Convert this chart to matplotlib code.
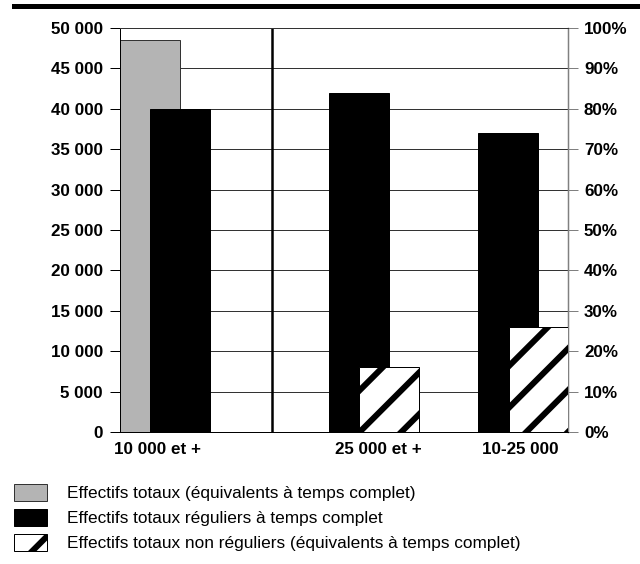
import numpy as np
import matplotlib.pyplot as plt
from matplotlib.patches import Patch
from matplotlib.ticker import FuncFormatter

# data
categories = ['10 000 et +', '25 000 et +', '10-25 000']
totaux_etp = [48500, None, None]            # gray, left axis
reguliers = [40000, 42000, 37000]           # black, left axis
non_reguliers_pct = [None, 0.16, 0.26]      # hatched, right axis

labels = ['Effectifs totaux (équivalents à temps complet)',
          'Effectifs totaux réguliers à temps complet',
          'Effectifs totaux non réguliers (équivalents à temps complet)']

DPI = 250
px = 72.0 / DPI   # points per pixel

plt.rcParams['font.family'] = ['Liberation Sans', 'DejaVu Sans']
plt.rcParams['hatch.linewidth'] = 6 * px

fig = plt.figure(figsize=(640 / DPI, 564 / DPI), dpi=DPI)
ax = fig.add_axes([120 / 640, 1 - 432 / 564, 448 / 640, 404 / 564])
ax2 = ax.twinx()

groups = np.array([0.3, 1.69, 2.69])
label_pos = groups + np.array([-0.05, 0.035, -0.02])
w = 0.4
off = 0.1  # bars overlap by half their width

for i, g in enumerate(groups):
    if totaux_etp[i] is not None:
        ax.bar(g - off, totaux_etp[i], w, color='#b4b4b4', edgecolor='#333333',
               linewidth=1 * px, zorder=2)
        ax.bar(g + off, reguliers[i], w, color='black', edgecolor='black',
               linewidth=1 * px, zorder=3)
    else:
        ax.bar(g - off, reguliers[i], w, color='black', edgecolor='black',
               linewidth=1 * px, zorder=3)
    if non_reguliers_pct[i] is not None:
        ax2.bar(g + off, non_reguliers_pct[i], w, color='white', edgecolor='black',
                hatch='//', linewidth=1 * px, zorder=3)

ax.set_xlim(0, 448 / 150)
ax.set_ylim(0, 50000)
ax2.set_ylim(0, 1)

# separator between first group and the rest
ax.axvline(1.013, color='black', lw=2.5 * px, zorder=4)

ax.set_yticks(np.arange(0, 50001, 5000))
ax.yaxis.set_major_formatter(FuncFormatter(lambda v, p: f'{int(v):,}'.replace(',', ' ')))
ax2.set_yticks(np.arange(0, 1.01, 0.1))
ax2.yaxis.set_major_formatter(FuncFormatter(lambda v, p: f'{int(round(v * 100))}%'))

ax.set_xticks(label_pos)
ax.set_xticklabels(categories)
ax.yaxis.grid(True, color='#333333', lw=1 * px, zorder=0)
ax.set_axisbelow(True)

tick_fs = 17 * px
ax.tick_params(axis='y', length=10 * px, width=1 * px, pad=7 * px, labelsize=tick_fs)
ax2.tick_params(axis='y', length=10 * px, width=1 * px, pad=6 * px, labelsize=tick_fs,
                color='#808080')
ax.tick_params(axis='x', length=0, pad=10 * px, labelsize=tick_fs)
for t in ax.get_yticklabels() + ax.get_xticklabels() + ax2.get_yticklabels():
    t.set_fontweight('bold')

for a in (ax, ax2):
    for s in a.spines.values():
        s.set_linewidth(1 * px)
    a.spines['top'].set_color('#333333')
ax2.spines['right'].set_color('#808080')
ax2.spines['right'].set_linewidth(1.5 * px)

# thick rule at the top
fig.add_artist(plt.Line2D([14 / 640, 1], [1 - 6 / 564, 1 - 6 / 564],
                          color='black', lw=5 * px, transform=fig.transFigure))

handles = [Patch(facecolor='#b4b4b4', edgecolor='#333333', lw=1 * px),
           Patch(facecolor='black', edgecolor='black', lw=1 * px),
           Patch(facecolor='white', edgecolor='black', hatch='//', lw=1 * px)]
leg_fs = 17.3
fig.legend(handles, labels, loc='upper left', bbox_to_anchor=(14 / 640, 1 - 484 / 564),
           frameon=False, fontsize=leg_fs * px, borderpad=0, borderaxespad=0,
           handlelength=33 / leg_fs, handleheight=19 / leg_fs,
           handletextpad=20 / leg_fs, labelspacing=0.45)

fig.savefig('out.png', dpi=DPI)
